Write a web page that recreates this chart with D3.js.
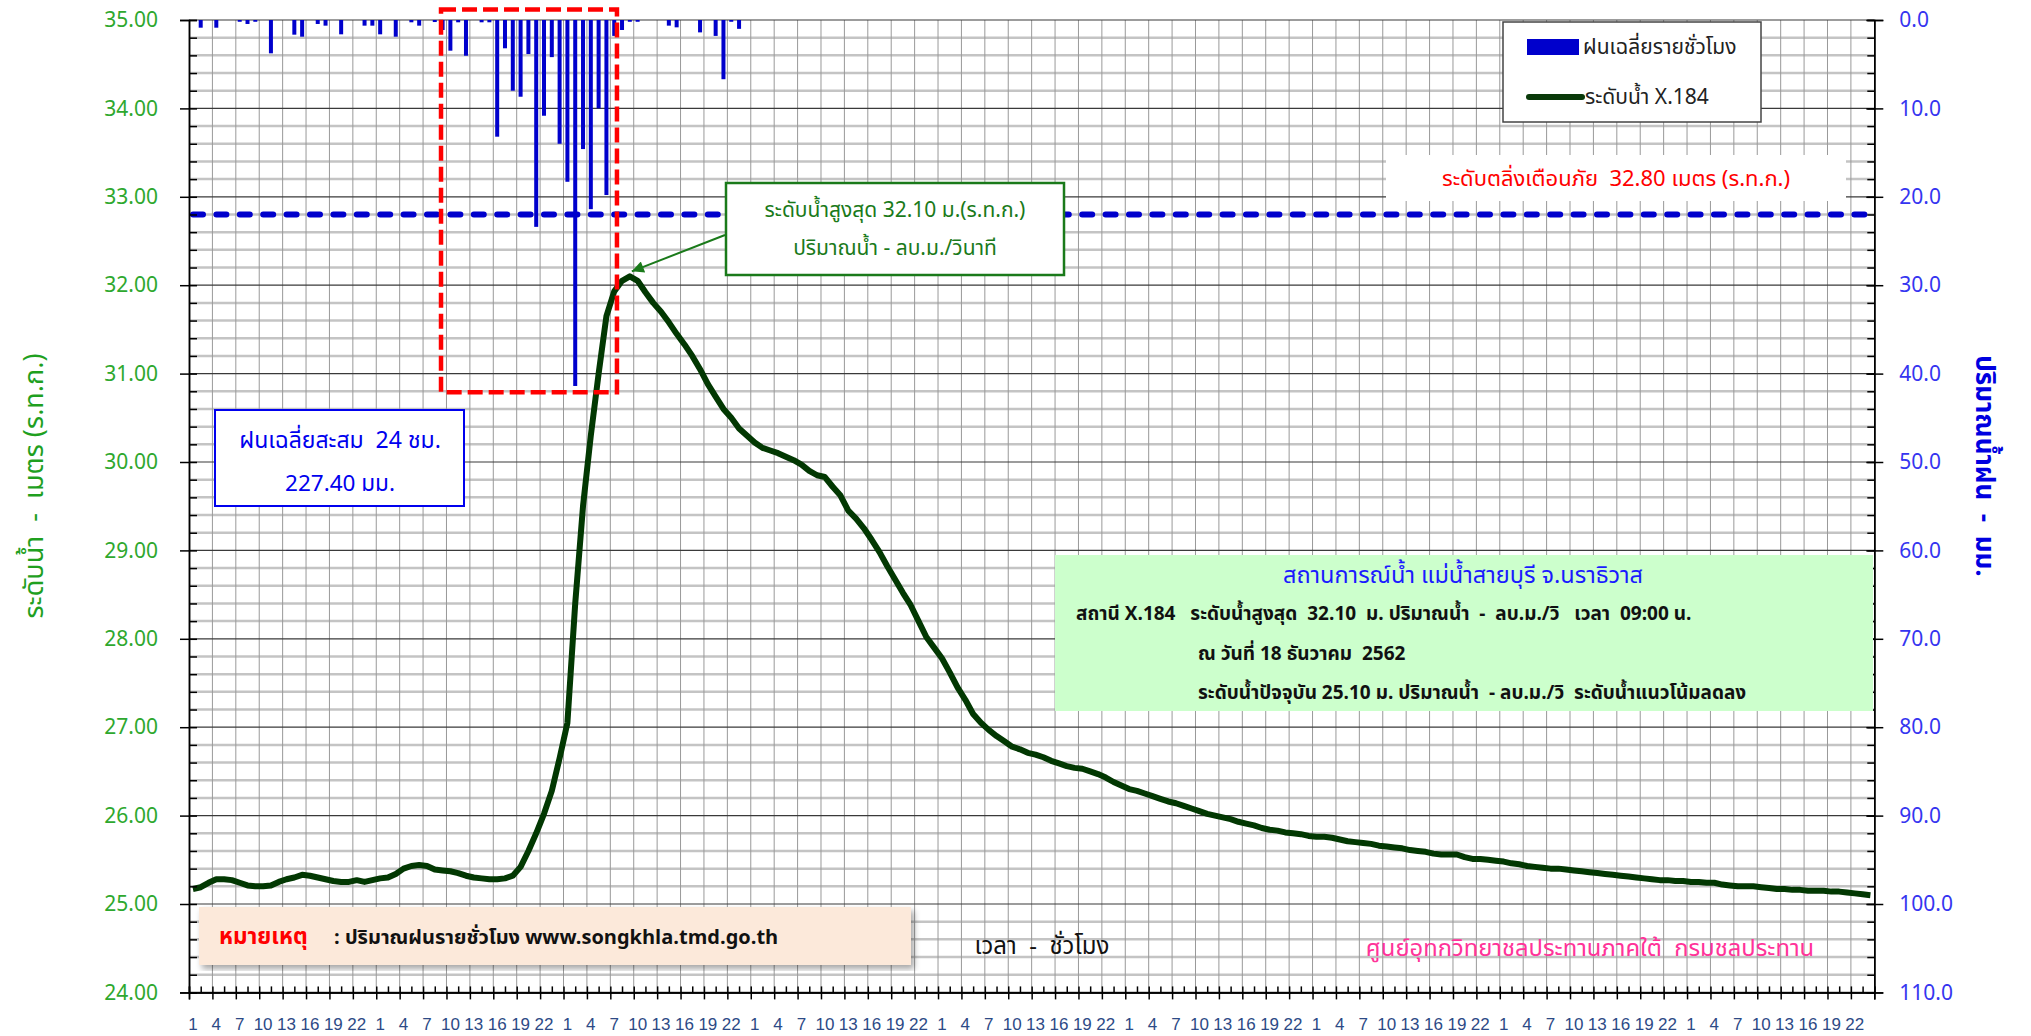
<!DOCTYPE html>
<html>
<head>
<meta charset="utf-8">
<script src="https://cdn.jsdelivr.net/npm/d3@7"></script>
<style>
body { margin: 0; background: white; }
text { font-family: Tahoma, "Noto Sans Thai", "Liberation Sans", sans-serif; white-space: pre; }
</style>
</head>
<body>
<script>
// ข้อมูลรายชั่วโมง 16-24 ธันวาคม 2562 สถานี X.184
const days = [16, 17, 18, 19, 20, 21, 22, 23, 24]
const hourLabels = [1, 4, 7, 10, 13, 16, 19, 22]
const levelTicks = [24, 25, 26, 27, 28, 29, 30, 31, 32, 33, 34, 35]
const rainTicks = [0, 10, 20, 30, 40, 50, 60, 70, 80, 90, 100, 110]

const waterLevel = [
    25.17, 25.19, 25.24, 25.28, 25.28, 25.27, 25.24, 25.21, 25.20, 25.20, 25.21, 25.25,
    25.28, 25.30, 25.33, 25.32, 25.30, 25.28, 25.26, 25.25, 25.25, 25.27, 25.25, 25.27,
    25.29, 25.30, 25.34, 25.40, 25.43, 25.44, 25.43, 25.39, 25.38, 25.37, 25.35, 25.32,
    25.30, 25.29, 25.28, 25.28, 25.29, 25.32, 25.42, 25.60, 25.80, 26.02, 26.28, 26.65,
    27.05, 28.40, 29.50, 30.30, 31.00, 31.65, 31.93, 32.05, 32.10, 32.05, 31.92, 31.80,
    31.70, 31.58, 31.45, 31.33, 31.20, 31.05, 30.88, 30.74, 30.60, 30.50, 30.38, 30.30,
    30.22, 30.16, 30.13, 30.10, 30.06, 30.02, 29.97, 29.90, 29.85, 29.83, 29.72, 29.62,
    29.45, 29.36, 29.25, 29.12, 28.98, 28.82, 28.67, 28.52, 28.38, 28.20, 28.02, 27.90,
    27.78, 27.62, 27.45, 27.31, 27.15, 27.05, 26.97, 26.90, 26.84, 26.78, 26.75, 26.71,
    26.69, 26.66, 26.62, 26.59, 26.56, 26.54, 26.53, 26.50, 26.47, 26.43, 26.38, 26.34,
    26.30, 26.28, 26.25, 26.22, 26.19, 26.16, 26.14, 26.11, 26.08, 26.05, 26.02, 26.00,
    25.98, 25.96, 25.93, 25.91, 25.89, 25.86, 25.84, 25.83, 25.81, 25.80, 25.79, 25.77,
    25.76, 25.76, 25.75, 25.73, 25.71, 25.70, 25.69, 25.68, 25.66, 25.65, 25.64, 25.63,
    25.61, 25.60, 25.59, 25.57, 25.56, 25.56, 25.56, 25.53, 25.51, 25.51, 25.50, 25.49,
    25.48, 25.46, 25.45, 25.43, 25.42, 25.41, 25.40, 25.40, 25.39, 25.38, 25.37, 25.36,
    25.35, 25.34, 25.33, 25.32, 25.31, 25.30, 25.29, 25.28, 25.27, 25.27, 25.26, 25.26,
    25.25, 25.25, 25.24, 25.24, 25.22, 25.21, 25.20, 25.20, 25.20, 25.19, 25.18, 25.17,
    25.17, 25.16, 25.16, 25.15, 25.15, 25.15, 25.14, 25.14, 25.13, 25.12, 25.11, 25.10
]

const rainHourly = [
    0, 0.87, 0, 0.87, 0, 0, 0.2, 0.45, 0.2, 0, 3.77, 0, 0, 1.66, 1.89, 0, 0.45, 0.64, 0, 1.62, 0, 0, 0.64, 0.64,
    1.62, 0, 1.89, 0, 0.26, 0.64, 0, 0.23, 1.13, 3.47, 0.26, 4.04, 0, 0.26, 0.26, 13.2, 3.2, 8.0, 8.68, 3.85, 23.4, 10.83, 4.2, 14.0,
    18.3, 41.4, 14.6, 21.4, 10.0, 19.8, 1.8, 1.13, 0.2, 0.2, 0, 0, 0, 0.64, 0.83, 0, 0, 1.4, 0, 1.8, 6.7, 0.2, 1.0, 0,
    0, 0, 0, 0, 0, 0, 0, 0, 0, 0, 0, 0, 0, 0, 0, 0, 0, 0, 0, 0, 0, 0, 0, 0,
    0, 0, 0, 0, 0, 0, 0, 0, 0, 0, 0, 0, 0, 0, 0, 0, 0, 0, 0, 0, 0, 0, 0, 0,
    0, 0, 0, 0, 0, 0, 0, 0, 0, 0, 0, 0, 0, 0, 0, 0, 0, 0, 0, 0, 0, 0, 0, 0,
    0, 0, 0, 0, 0, 0, 0, 0, 0, 0, 0, 0, 0, 0, 0, 0, 0, 0, 0, 0, 0, 0, 0, 0,
    0, 0, 0, 0, 0, 0, 0, 0, 0, 0, 0, 0, 0, 0, 0, 0, 0, 0, 0, 0, 0, 0, 0, 0,
    0, 0, 0, 0, 0, 0, 0, 0, 0, 0, 0, 0, 0, 0, 0, 0, 0, 0, 0, 0, 0, 0, 0, 0
]

const warningLevel = 32.80
const peakLevel = 32.10
const peakHour = 56
// ช่วงฝนตกหนัก (กรอบแดง)
const heavyRainHours = [32.3, 54.85]
const heavyRainLevels = [35.12, 30.79]

function main(){
    const width = 2031
    const height = 1036
    const plot = { left: 189, right: 1874.3, top: 20, bottom: 992.4 }

    let svg = d3.select("body")
        .append('svg')
        .attr('width', width)
        .attr('height', height)
        .attr('style', "background-color: white")

    // categories: one per hour, 24 per day
    let categories = []
    days.forEach(d => { for (let h = 1; h <= 24; h++) categories.push({ day: d, hour: h }) })

    let x = d3.scaleBand()
        .domain(d3.range(categories.length))
        .range([plot.left, plot.right])
    let xb = d3.scaleLinear()
        .domain([0, categories.length])
        .range([plot.left, plot.right])
    let bw = x.bandwidth()
    let yLevel = d3.scaleLinear()
        .domain([24, 35])
        .range([plot.bottom, plot.top])
    let yRain = d3.scaleLinear()
        .domain([0, 110])
        .range([plot.top, plot.bottom])

    const minorLevels = d3.range(24, 35.001, 0.2).filter(v => Math.abs(v - Math.round(v)) > 0.01)
    const labelIdx = d3.range(categories.length).filter(i => hourLabels.includes(categories[i].hour))
    const boundaries = d3.range(0, categories.length + 1, 3)

    // grid
    const grid = svg.append('g')
    grid.selectAll('.hminor')
        .data(minorLevels)
        .enter()
        .append('line')
        .attr('x1', plot.left).attr('x2', plot.right)
        .attr('y1', d => yLevel(d)).attr('y2', d => yLevel(d))
        .attr('stroke', '#c4c4c4')
        .attr('stroke-width', 2.5)
    grid.selectAll('.vgrid')
        .data(boundaries.slice(1, -1))
        .enter()
        .append('line')
        .attr('x1', d => xb(d)).attr('x2', d => xb(d))
        .attr('y1', plot.top).attr('y2', plot.bottom)
        .attr('stroke', '#999')
        .attr('stroke-width', 1)
    grid.selectAll('.hmajor')
        .data(levelTicks)
        .enter()
        .append('line')
        .attr('x1', plot.left).attr('x2', plot.right)
        .attr('y1', d => yLevel(d)).attr('y2', d => yLevel(d))
        .attr('stroke', '#3a3a3a')
        .attr('stroke-width', 1.2)

    // rain bars hang from the top
    svg.append('g')
        .selectAll('rect')
        .data(rainHourly)
        .enter()
        .append('rect')
        .attr('x', (d, i) => x(i) + bw / 2 - 2)
        .attr('y', yRain(0))
        .attr('width', 4)
        .attr('height', d => yRain(d) - yRain(0))
        .attr('fill', '#0000cc')

    // warning level
    svg.append('line')
        .attr('x1', plot.left + 4).attr('x2', plot.right - 4)
        .attr('y1', yLevel(warningLevel)).attr('y2', yLevel(warningLevel))
        .attr('stroke', '#0000cc')
        .attr('stroke-width', 6)
        .attr('stroke-linecap', 'round')
        .attr('stroke-dasharray', '10,13.4')

    // water level line
    let line = d3.line()
        .x((d, i) => x(i) + bw / 2)
        .y(d => yLevel(d))
    svg.append('path')
        .datum(waterLevel)
        .attr('d', line)
        .attr('fill', 'none')
        .attr('stroke', '#023802')
        .attr('stroke-width', 6)
        .attr('stroke-linejoin', 'round')

    // heavy rain highlight
    svg.append('rect')
        .attr('x', xb(heavyRainHours[0]))
        .attr('y', yLevel(heavyRainLevels[0]))
        .attr('width', xb(heavyRainHours[1]) - xb(heavyRainHours[0]))
        .attr('height', yLevel(heavyRainLevels[1]) - yLevel(heavyRainLevels[0]))
        .attr('fill', 'none')
        .attr('stroke', '#ff0000')
        .attr('stroke-width', 4.5)
        .attr('stroke-dasharray', '15,6')

    // axes
    let leftAxis = svg.append('g')
        .attr('transform', `translate(${plot.left},0)`)
        .call(d3.axisLeft(yLevel).tickValues(levelTicks).tickFormat(d3.format('.2f')).tickSize(9).tickPadding(22))
    leftAxis.selectAll('.tick line').attr('x2', 8).attr('x1', -9)
    leftAxis.selectAll('text').attr('fill', '#2ea82e').attr('font-size', '21px')
    svg.append('g')
        .attr('transform', `translate(${plot.left},0)`)
        .call(d3.axisRight(yLevel).tickValues(minorLevels).tickFormat('').tickSize(8))

    let rightAxis = svg.append('g')
        .attr('transform', `translate(${plot.right},0)`)
        .call(d3.axisRight(yRain).tickValues(rainTicks).tickFormat(d3.format('.1f')).tickSize(9).tickPadding(16))
    rightAxis.selectAll('.tick line').attr('x1', -8)
    rightAxis.selectAll('text').attr('fill', '#3535f0').attr('font-size', '21px')
    svg.append('g')
        .attr('transform', `translate(${plot.right},0)`)
        .call(d3.axisLeft(yRain).tickValues(d3.range(0, 110.001, 2)).tickFormat('').tickSize(7))

    let bottomAxis = svg.append('g')
        .attr('transform', `translate(0,${plot.bottom})`)
        .call(d3.axisBottom(x).tickValues(labelIdx).tickFormat(i => categories[i].hour).tickSize(0).tickPadding(26))
    bottomAxis.select('.domain').remove()
    bottomAxis.selectAll('text')
        .attr('fill', '#2d4a86')
        .attr('font-size', '17px')
        .attr('style', 'font-family: "Liberation Sans Narrow", "Liberation Sans", sans-serif')
    let bTicks = svg.append('g')
        .attr('transform', `translate(0,${plot.bottom})`)
        .call(d3.axisBottom(xb).tickValues(boundaries).tickFormat('').tickSize(7))
    bTicks.selectAll('.tick line').attr('y1', -6)
    svg.append('g')
        .attr('transform', `translate(0,${plot.bottom})`)
        .call(d3.axisTop(xb).tickValues(d3.range(1.5, categories.length, 3)).tickFormat('').tickSize(6))
    svg.selectAll('.domain').attr('stroke', '#000').attr('stroke-width', 1.5)
    svg.selectAll('.tick line').attr('stroke', '#000').attr('stroke-width', 1.5)

    // axis titles
    svg.append('text')
        .attr('transform', 'translate(43,486) rotate(-90)')
        .attr('text-anchor', 'middle')
        .attr('font-size', '27px')
        .attr('fill', '#1fa01f')
        .text('ระดับน้ำ  -  เมตร (ร.ท.ก.)')
    svg.append('text')
        .attr('transform', 'translate(1976,466) rotate(90)')
        .attr('text-anchor', 'middle')
        .attr('font-size', '26px')
        .attr('font-weight', 'bold')
        .attr('fill', '#0000e0')
        .text('ปริมาณน้ำฝน  -  มม.')

    // peak callout
    svg.append('defs').append('marker')
        .attr('id', 'arrow')
        .attr('viewBox', '0 0 10 10')
        .attr('refX', 10).attr('refY', 5)
        .attr('markerWidth', 8).attr('markerHeight', 6)
        .attr('orient', 'auto')
        .append('path')
        .attr('d', 'M0,0 L10,5 L0,10 z')
        .attr('fill', '#1a7a1a')
    svg.append('line')
        .attr('x1', 725).attr('y1', 235)
        .attr('x2', x(peakHour) + bw / 2 + 2).attr('y2', yLevel(peakLevel) - 5)
        .attr('stroke', '#1a7a1a')
        .attr('stroke-width', 2)
        .attr('marker-end', 'url(#arrow)')
    svg.append('rect')
        .attr('x', 726).attr('y', 183).attr('width', 338).attr('height', 92)
        .attr('fill', 'white').attr('stroke', '#1a7a1a').attr('stroke-width', 2.5)
    svg.append('text')
        .attr('x', 895).attr('y', 217).attr('text-anchor', 'middle')
        .attr('font-size', '21px').attr('fill', '#1a7a1a')
        .text('ระดับน้ำสูงสุด ' + peakLevel.toFixed(2) + ' ม.(ร.ท.ก.)')
    svg.append('text')
        .attr('x', 895).attr('y', 255).attr('text-anchor', 'middle')
        .attr('font-size', '21px').attr('fill', '#1a7a1a')
        .text('ปริมาณน้ำ - ลบ.ม./วินาที')

    // legend
    svg.append('rect')
        .attr('x', 1503).attr('y', 22).attr('width', 258).attr('height', 100)
        .attr('fill', 'white').attr('stroke', '#444').attr('stroke-width', 1.5)
    svg.append('rect')
        .attr('x', 1527).attr('y', 39).attr('width', 52).attr('height', 16)
        .attr('fill', '#0000cc')
    svg.append('text')
        .attr('x', 1583).attr('y', 54).attr('font-size', '21px').attr('fill', '#222')
        .text('ฝนเฉลี่ยรายชั่วโมง')
    svg.append('line')
        .attr('x1', 1529).attr('x2', 1582).attr('y1', 97).attr('y2', 97)
        .attr('stroke', '#0a3a0a').attr('stroke-width', 6).attr('stroke-linecap', 'round')
    svg.append('text')
        .attr('x', 1585).attr('y', 104).attr('font-size', '21px').attr('fill', '#222')
        .text('ระดับน้ำ X.184')

    // warning label
    svg.append('rect')
        .attr('x', 1386).attr('y', 155).attr('width', 460).attr('height', 46)
        .attr('fill', 'white')
    svg.append('text')
        .attr('x', 1616).attr('y', 186).attr('text-anchor', 'middle')
        .attr('font-size', '22px').attr('fill', '#ff0000')
        .text('ระดับตลิ่งเตือนภัย  ' + warningLevel.toFixed(2) + ' เมตร (ร.ท.ก.)')

    // accumulated rain box
    svg.append('rect')
        .attr('x', 215).attr('y', 410).attr('width', 249).attr('height', 96)
        .attr('fill', 'white').attr('stroke', '#0000ee').attr('stroke-width', 2)
    svg.append('text')
        .attr('x', 340).attr('y', 448).attr('text-anchor', 'middle')
        .attr('font-size', '23px').attr('fill', '#0000ee')
        .text('ฝนเฉลี่ยสะสม  24 ชม.')
    svg.append('text')
        .attr('x', 340).attr('y', 491).attr('text-anchor', 'middle')
        .attr('font-size', '22.5px').attr('fill', '#0000ee')
        .text('227.40 มม.')

    // station summary
    svg.append('rect')
        .attr('x', 1055).attr('y', 555).attr('width', 818).attr('height', 156)
        .attr('fill', '#ccffcc')
    svg.append('text')
        .attr('x', 1463).attr('y', 583).attr('text-anchor', 'middle')
        .attr('font-size', '23.5px').attr('fill', '#1a1aff')
        .text('สถานการณ์น้ำ แม่น้ำสายบุรี จ.นราธิวาส')
    const info = [
        { x: 1076, y: 620, t: 'สถานี X.184   ระดับน้ำสูงสุด  32.10  ม. ปริมาณน้ำ  -  ลบ.ม./วิ   เวลา  09:00 น.' },
        { x: 1198, y: 660, t: 'ณ วันที่ 18 ธันวาคม  2562' },
        { x: 1198, y: 699, t: 'ระดับน้ำปัจจุบัน 25.10 ม. ปริมาณน้ำ  - ลบ.ม./วิ  ระดับน้ำแนวโน้มลดลง' }
    ]
    svg.selectAll('.info')
        .data(info)
        .enter()
        .append('text')
        .attr('x', d => d.x).attr('y', d => d.y)
        .attr('font-size', '19px').attr('font-weight', 'bold').attr('fill', '#111')
        .text(d => d.t)

    // note
    svg.append('defs').append('filter').attr('id', 'shadow')
        .append('feDropShadow').attr('dx', 3).attr('dy', 4).attr('stdDeviation', 3).attr('flood-opacity', 0.35)
    svg.append('rect')
        .attr('x', 199).attr('y', 907).attr('width', 712).attr('height', 58)
        .attr('fill', '#fce9da').attr('filter', 'url(#shadow)')
    svg.append('text')
        .attr('x', 219).attr('y', 944).attr('font-size', '22.5px').attr('font-weight', 'bold').attr('fill', '#ff0000')
        .text('หมายเหตุ')
    svg.append('text')
        .attr('x', 334).attr('y', 944).attr('font-size', '20px').attr('font-weight', 'bold').attr('fill', '#111')
        .text(': ปริมาณฝนรายชั่วโมง www.songkhla.tmd.go.th')

    svg.append('text')
        .attr('x', 1042).attr('y', 954).attr('text-anchor', 'middle')
        .attr('font-size', '24px').attr('fill', '#111')
        .text('เวลา  -  ชั่วโมง')
    svg.append('text')
        .attr('x', 1590).attr('y', 956).attr('text-anchor', 'middle')
        .attr('font-size', '23.8px').attr('fill', '#ff3399')
        .text('ศูนย์อุทกวิทยาชลประทานภาคใต้  กรมชลประทาน')
}

main()
</script>
</body>
</html>
